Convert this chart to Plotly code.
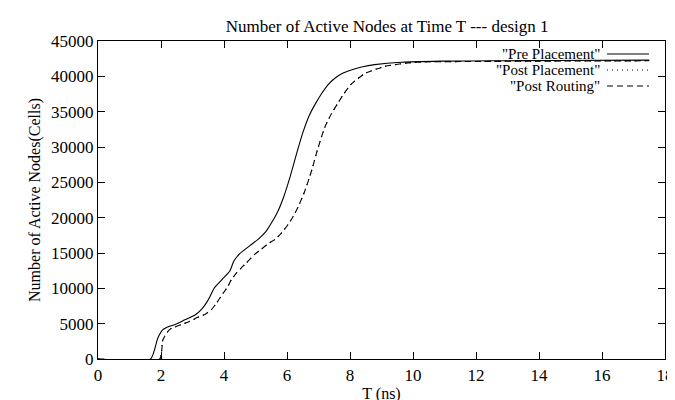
import plotly.graph_objects as go

# ---- data ----
pre_t = [0, 1.67, 1.90, 2.06, 2.27, 2.43, 2.70, 3.09, 3.30, 3.49, 3.70, 3.95, 4.18, 4.31, 4.50,
         4.87, 5.10, 5.34, 5.50, 5.70, 5.90, 6.10, 6.30, 6.50, 6.70, 6.90, 7.09, 7.30, 7.51, 7.75,
         8.04, 8.40, 8.78, 9.63, 10.9, 12.5, 14.5, 17.5]
pre_n = [0, 0, 2980, 4150, 4620, 4860, 5420, 6270, 7100, 8300, 10100, 11300, 12410, 13820, 14900,
         16200, 17000, 18100, 19200, 20800, 23000, 25800, 29000, 32000, 34400, 36100, 37500, 38800, 39700, 40400,
         40900, 41350, 41650, 42000, 42150, 42200, 42250, 42300]

post_place_t = [0, 1.95, 2.06, 2.27, 2.54, 2.90, 3.17, 3.39, 3.60, 3.76, 3.97, 4.13, 4.23, 4.40,
                4.55, 4.71, 4.97, 5.20, 5.40, 5.61, 5.80, 6.03, 6.20, 6.35, 6.56, 6.77, 6.98, 7.20,
                7.41, 7.60, 7.80, 8.04, 8.47, 9.10, 9.84, 10.37, 12.0, 14.0, 17.5]
post_place_n = [0, 0, 2800, 4200, 4700, 5300, 5900, 6300, 7000, 7900, 9300, 10300, 11200, 12200,
                12900, 13600, 14800, 15600, 16300, 16900, 17700, 19000, 20200, 21500, 23700, 26500, 29800, 32800,
                34700, 36100, 37500, 38900, 40400, 41400, 41900, 42050, 42100, 42150, 42200]

post_route_t = [0, 1.96, 2.06, 2.27, 2.54, 2.90, 3.17, 3.39, 3.60, 3.76, 3.97, 4.13, 4.23, 4.40,
                4.55, 4.71, 4.97, 5.20, 5.40, 5.61, 5.80, 6.03, 6.20, 6.35, 6.56, 6.77, 6.98, 7.20,
                7.41, 7.60, 7.80, 8.04, 8.47, 9.10, 9.84, 10.37, 12.0, 14.0, 17.5]
post_route_n = [0, 0, 2730, 4150, 4700, 5300, 5900, 6300, 7000, 7900, 9300, 10300, 11200, 12200,
                12900, 13600, 14800, 15600, 16300, 16900, 17700, 19000, 20200, 21500, 23700, 26500, 29800, 32800,
                34700, 36100, 37500, 38900, 40400, 41400, 41900, 42050, 42100, 42150, 42200]

series_names = ['"Pre Placement"', '"Post Placement"', '"Post Routing"']
x_ticks = [0, 2, 4, 6, 8, 10, 12, 14, 16, 18]
y_ticks = [0, 5000, 10000, 15000, 20000, 25000, 30000, 35000, 40000, 45000]

FONT = "Liberation Serif, Times New Roman, serif"
dashes = ["solid", "1px,4px", "6px,4px"]

fig = go.Figure()
for name, t, n, d in zip(series_names,
                         [pre_t, post_place_t, post_route_t],
                         [pre_n, post_place_n, post_route_n],
                         dashes):
    fig.add_trace(go.Scatter(x=t, y=n, mode="lines", name=name, showlegend=False,
                             line=dict(color="black", width=1.1, dash=d, shape="spline", smoothing=0.5)))

# gnuplot-style key: right-aligned text with line sample to the right
key_rows_px = [46, 62, 78]
for name, d, py in zip(series_names, dashes, key_rows_px):
    yp = (351 - py) / 318
    fig.add_annotation(xref="paper", yref="paper", x=(593 - 90) / 567, y=yp,
                       xanchor="right", yanchor="middle", showarrow=False,
                       text=name, font=dict(family=FONT, size=15, color="black"),
                       borderpad=0)
    fig.add_shape(type="line", xref="paper", yref="paper",
                  x0=(599 - 90) / 567, x1=(641 - 90) / 567, y0=yp, y1=yp,
                  line=dict(color="black", width=1.1, dash=d))

axis_common = dict(showline=True, linecolor="black", linewidth=1.2, mirror="ticks",
                   ticks="inside", ticklen=7, tickcolor="black", tickwidth=1,
                   showgrid=False, zeroline=False, automargin=False,
                   tickfont=dict(family=FONT, size=17, color="black"))

fig.update_layout(
    width=675, height=400,
    margin=dict(l=90, r=18, t=33, b=49),
    paper_bgcolor="white", plot_bgcolor="white",
    title=dict(text="Number of Active Nodes at Time T --- design 1",
               x=0.51, xref="paper", y=1 - 18 / 400, yanchor="middle",
               font=dict(family=FONT, size=17, color="black")),
    xaxis=dict(range=[0, 18], tickvals=x_ticks, ticktext=[str(v) for v in x_ticks],
               title=dict(text="T (ns)", standoff=4, font=dict(family=FONT, size=16, color="black")),
               **axis_common),
    yaxis=dict(range=[0, 45000], tickvals=y_ticks, ticktext=[str(v) for v in y_ticks],
               title=dict(text="Number of Active Nodes(Cells)", standoff=6,
                          font=dict(family=FONT, size=16, color="black")),
               **axis_common),
)

fig.write_html("out.html")
